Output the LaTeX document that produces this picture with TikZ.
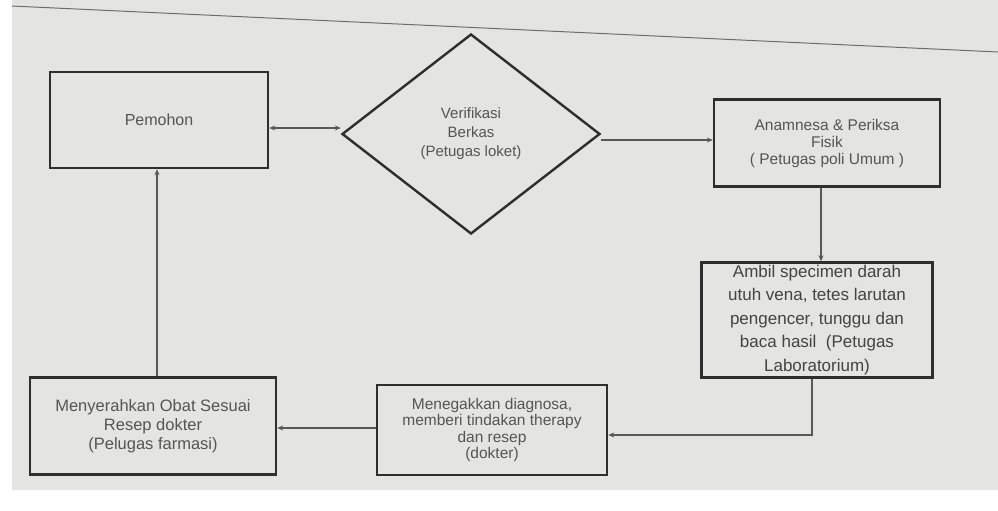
\documentclass[tikz,border=0pt]{standalone}
\usepackage{fontspec}
\setmainfont{Liberation Sans}
\usetikzlibrary{shapes.geometric,arrows.meta}
\definecolor{paper}{HTML}{E4E4E2}
\definecolor{ink}{HTML}{2E2E2E}
\definecolor{txt}{HTML}{555555}
\tikzset{
  x=1pt,y=1pt,
  procbox/.style={draw=ink,line width=2.4pt,fill=paper,text=txt,align=center,inner sep=2pt,font=\fontsize{15.5}{17}\selectfont},
  conn/.style={draw=ink!80,line width=1.3pt,-{Stealth[length=6pt,width=5pt]}},
}
\begin{document}
\begin{tikzpicture}
\useasboundingbox (0,0) rectangle (998,-511);
\fill[white] (0,0) rectangle (998,-511);
\fill[paper] (12,0) rectangle (998,-490);
\draw[ink!70,line width=1pt] (12,-6) -- (998,-52);

\node[procbox,minimum width=218,minimum height=96,font=\fontsize{16}{17}\selectfont] (pem) at (159,-120) {Pemohon};
\node[diamond,draw=ink,line width=2.4pt,fill=paper,text=txt,align=center,
      minimum width=258,minimum height=200,inner sep=0pt,font=\fontsize{15}{19}\selectfont]
      (ver) at (471,-134) {Verifikasi\\Berkas\\(Petugas loket)};
\node[procbox,minimum width=226,minimum height=87] (ana) at (827,-143) {Anamnesa \& Periksa\\Fisik\\( Petugas poli Umum )};
\node[procbox,minimum width=231,minimum height=115,font=\fontsize{17}{23.5}\selectfont,text=ink!90] (amb) at (817,-320)
  {Ambil specimen darah\\utuh vena, tetes larutan\\pengencer, tunggu dan\\baca hasil \ (Petugas\\Laboratorium)};
\node[procbox,minimum width=230,minimum height=90,font=\fontsize{15.5}{16.5}\selectfont] (men) at (492,-430) {Menegakkan diagnosa,\\memberi tindakan therapy\\dan resep\\(dokter)};
\node[procbox,minimum width=246,minimum height=97,font=\fontsize{16.5}{19}\selectfont] (nye) at (153,-426) {Menyerahkan Obat Sesuai\\Resep dokter\\(Pelugas farmasi)};

\draw[conn,{Stealth[length=6pt,width=5pt]}-{Stealth[length=6pt,width=5pt]}] (pem.east |- 0,-128) -- (ver.west |- 0,-128);
\draw[conn] (ver.east |- 0,-140) -- (ana.west |- 0,-140);
\draw[conn] (ana.south -| 821,0) -- (amb.north -| 821,0);
\draw[conn] (amb.south -| 812,0) |- (men.east |- 0,-435);
\draw[conn] (men.west |- 0,-428) -- (nye.east |- 0,-428);
\draw[conn] (nye.north -| 157,0) -- (pem.south -| 157,0);
\end{tikzpicture}
\end{document}
